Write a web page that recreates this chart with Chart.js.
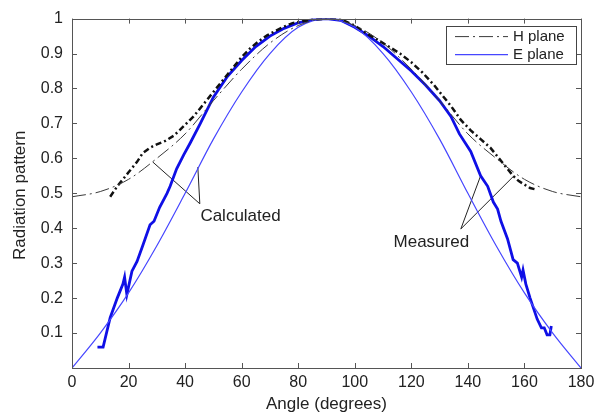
<!DOCTYPE html>
<html>
<head>
<meta charset="utf-8">
<script src="https://cdn.jsdelivr.net/npm/chart.js@4.4.1/dist/chart.umd.min.js"></script>
<style>
    body { margin: 0; background: #fff; }
    canvas { display: block; }
</style>
</head>
<body>
<canvas id="patternChart" width="601" height="416"></canvas>
<script>
const xTickLabels = [0, 20, 40, 60, 80, 100, 120, 140, 160, 180];
const yTickLabels = [0.1, 0.2, 0.3, 0.4, 0.5, 0.6, 0.7, 0.8, 0.9, 1];

const calcAngles = [0, 10, 20, 30, 40, 50, 60, 70, 80, 90, 100, 110, 120, 130, 140, 150, 160, 170, 180];
const hCalcValues = [0.49, 0.505, 0.54, 0.60, 0.67, 0.765, 0.855, 0.93, 0.98, 1.0, 0.98, 0.93, 0.855, 0.765, 0.67, 0.60, 0.54, 0.505, 0.49];
const eCalcValues = [0.0, 0.1, 0.215, 0.35, 0.5, 0.655, 0.79, 0.9, 0.975, 1.0, 0.975, 0.9, 0.79, 0.655, 0.5, 0.35, 0.215, 0.1, 0.0];

const hMeasAngles = [13.5, 16, 18, 20, 23, 25, 27.5, 30, 33, 36, 38, 40.5, 43, 45.5, 48, 51, 54, 57, 60, 63, 66, 69, 72, 75, 78, 81, 84, 87, 90,
    93, 96, 100, 104, 108, 112, 116, 120, 124, 128, 131, 134, 137.5, 141, 144.5, 148, 151, 154, 156, 158, 160, 162, 164.5];
const hMeasValues = [0.49, 0.52, 0.54, 0.56, 0.59, 0.615, 0.63, 0.64, 0.65, 0.665, 0.68, 0.70, 0.72, 0.745, 0.77, 0.80, 0.83, 0.86, 0.89, 0.915, 0.935, 0.952, 0.965, 0.977, 0.987, 0.992, 0.996, 0.998, 1.0,
    1.0, 0.995, 0.98, 0.958, 0.94, 0.92, 0.9, 0.875, 0.845, 0.81, 0.78, 0.75, 0.71, 0.68, 0.655, 0.63, 0.6, 0.57, 0.55, 0.535, 0.525, 0.515, 0.51];

const eMeasAngles = [9, 11, 13.5, 16, 18, 18.6, 19.4, 21.2, 23, 25, 27.6, 29, 31, 33.6, 34.7, 37, 39.5, 41.8, 45.4, 50, 55, 60, 65, 70, 75, 80, 85, 90,
    95, 100, 105, 110, 115, 120, 125, 130, 134, 137, 141, 144.5, 147, 149, 150.5, 151.7, 154, 156, 157.5, 159, 159.5, 160.5, 162, 164.5, 166, 167, 168, 169, 169.5];
const eMeasValues = [0.06, 0.06, 0.144, 0.2, 0.24, 0.26, 0.21, 0.277, 0.305, 0.35, 0.41, 0.42, 0.46, 0.50, 0.52, 0.57, 0.61, 0.644, 0.70, 0.775, 0.835, 0.88, 0.92, 0.95, 0.972, 0.988, 0.997, 1.0,
    0.995, 0.975, 0.95, 0.92, 0.885, 0.85, 0.81, 0.765, 0.72, 0.67, 0.62, 0.55, 0.52, 0.475, 0.455, 0.42, 0.37, 0.31, 0.3, 0.26, 0.28, 0.24, 0.2, 0.14, 0.115, 0.115, 0.095, 0.095, 0.12];

// annotation pointers in data units
const calcPointerA = [[28.5, 0.59], [45.2, 0.47]];
const calcPointerB = [[44.5, 0.575], [45.2, 0.47]];
const measPointerA = [[144.5, 0.55], [137.5, 0.398]];
const measPointerB = [[156.3, 0.55], [137.5, 0.398]];
const annotationLabels = [
    { text: 'Calculated', x: 45.4, y: 0.435 },
    { text: 'Measured', x: 113.7, y: 0.359 }
];

const legendEntries = ['H plane', 'E plane'];

function toPoints(xs, ys) {
    return xs.map((x, i) => ({ x: x, y: ys[i] }));
}

function pairToPoints(pair) {
    return pair.map(p => ({ x: p[0], y: p[1] }));
}

function pointerDataset(pair) {
    return {
        data: pairToPoints(pair),
        borderColor: '#222',
        borderWidth: 1,
        pointRadius: 0,
        tension: 0
    };
}

const frameAndTicks = {
    id: 'frameAndTicks',
    afterDraw(chart) {
        const { ctx, chartArea } = chart;
        const xScale = chart.scales.x;
        const yScale = chart.scales.y;
        const len = 5;
        ctx.save();
        ctx.strokeStyle = '#555';
        ctx.lineWidth = 1;
        ctx.beginPath();
        xTickLabels.forEach(v => {
            const px = Math.round(xScale.getPixelForValue(v)) + 0.5;
            ctx.moveTo(px, chartArea.bottom);
            ctx.lineTo(px, chartArea.bottom - len);
            ctx.moveTo(px, chartArea.top);
            ctx.lineTo(px, chartArea.top + len);
        });
        yTickLabels.forEach(v => {
            const py = Math.round(yScale.getPixelForValue(v)) + 0.5;
            ctx.moveTo(chartArea.left, py);
            ctx.lineTo(chartArea.left + len, py);
            ctx.moveTo(chartArea.right, py);
            ctx.lineTo(chartArea.right - len, py);
        });
        ctx.stroke();
        ctx.strokeRect(Math.round(chartArea.left) + 0.5, Math.round(chartArea.top) + 0.5,
            Math.round(chartArea.right - chartArea.left), Math.round(chartArea.bottom - chartArea.top));

        // axis titles
        ctx.fillStyle = '#222';
        ctx.font = '17px "Liberation Sans", Arial, sans-serif';
        ctx.textAlign = 'center';
        ctx.textBaseline = 'middle';
        ctx.fillText('Angle (degrees)', (chartArea.left + chartArea.right) / 2, chartArea.bottom + 36);
        ctx.save();
        ctx.translate(20, (chartArea.top + chartArea.bottom) / 2 + 2);
        ctx.rotate(-Math.PI / 2);
        ctx.fillText('Radiation pattern', 0, 0);
        ctx.restore();

        // annotation texts
        ctx.textAlign = 'left';
        annotationLabels.forEach(label => {
            ctx.fillText(label.text, xScale.getPixelForValue(label.x), yScale.getPixelForValue(label.y));
        });

        // legend box
        const boxLeft = chartArea.right - 135;
        const boxTop = chartArea.top + 7;
        const boxWidth = 130;
        const boxHeight = 38;
        ctx.fillStyle = '#fff';
        ctx.fillRect(boxLeft, boxTop, boxWidth, boxHeight);
        ctx.strokeStyle = '#444';
        ctx.strokeRect(Math.round(boxLeft) + 0.5, Math.round(boxTop) + 0.5, boxWidth, boxHeight);
        ctx.font = '15px "Liberation Sans", Arial, sans-serif';
        legendEntries.forEach((name, i) => {
            const ds = chart.data.datasets.find(d => d.label === name);
            const rowY = boxTop + 11 + i * 18;
            ctx.strokeStyle = ds.borderColor;
            ctx.lineWidth = ds.borderWidth;
            ctx.setLineDash(ds.borderDash || []);
            ctx.beginPath();
            ctx.moveTo(boxLeft + 9, rowY);
            ctx.lineTo(boxLeft + 62, rowY);
            ctx.stroke();
            ctx.setLineDash([]);
            ctx.fillStyle = '#222';
            ctx.fillText(name, boxLeft + 67, rowY);
        });
        ctx.restore();
    }
};

function initializePatternChart() {
    const ctx = document.getElementById('patternChart').getContext('2d');
    return new Chart(ctx, {
        type: 'line',
        data: {
            datasets: [
                {
                    label: 'H plane',
                    data: toPoints(calcAngles, hCalcValues),
                    borderColor: '#3a3a3a',
                    borderWidth: 1,
                    borderDash: [14, 4, 2, 4],
                    pointRadius: 0,
                    cubicInterpolationMode: 'monotone'
                },
                {
                    label: 'E plane',
                    data: toPoints(calcAngles, eCalcValues),
                    borderColor: 'rgb(70, 70, 255)',
                    borderWidth: 1.2,
                    pointRadius: 0,
                    cubicInterpolationMode: 'monotone'
                },
                {
                    label: 'H plane measured',
                    data: toPoints(hMeasAngles, hMeasValues),
                    borderColor: '#111',
                    borderWidth: 2.5,
                    borderDash: [6, 3, 2, 3],
                    pointRadius: 0,
                    tension: 0
                },
                {
                    label: 'E plane measured',
                    data: toPoints(eMeasAngles, eMeasValues),
                    borderColor: 'rgb(15, 15, 230)',
                    borderWidth: 2.8,
                    pointRadius: 0,
                    tension: 0
                },
                pointerDataset(calcPointerA),
                pointerDataset(calcPointerB),
                pointerDataset(measPointerA),
                pointerDataset(measPointerB)
            ]
        },
        options: {
            responsive: false,
            animation: false,
            layout: {
                padding: { left: 0, right: 20, top: 14, bottom: 0 }
            },
            scales: {
                x: {
                    type: 'linear',
                    min: 0,
                    max: 180,
                    afterFit: scale => { scale.height = 48; },
                    afterBuildTicks: scale => { scale.ticks = xTickLabels.map(v => ({ value: v })); },
                    grid: { display: false, drawTicks: false },
                    border: { display: false },
                    ticks: {
                        padding: 5,
                        color: '#222',
                        maxRotation: 0,
                        font: { size: 16, family: '"Liberation Sans", Arial, sans-serif' }
                    }
                },
                y: {
                    min: 0,
                    max: 1,
                    afterFit: scale => { scale.width = 72; },
                    afterBuildTicks: scale => { scale.ticks = yTickLabels.map(v => ({ value: v })); },
                    grid: { display: false, drawTicks: false },
                    border: { display: false },
                    ticks: {
                        padding: 9,
                        color: '#222',
                        callback: value => String(Math.round(value * 10) / 10),
                        font: { size: 16, family: '"Liberation Sans", Arial, sans-serif' }
                    }
                }
            },
            plugins: {
                legend: { display: false },
                tooltip: { enabled: false }
            }
        },
        plugins: [frameAndTicks]
    });
}

document.addEventListener('DOMContentLoaded', () => {
    initializePatternChart();
});
</script>
</body>
</html>
